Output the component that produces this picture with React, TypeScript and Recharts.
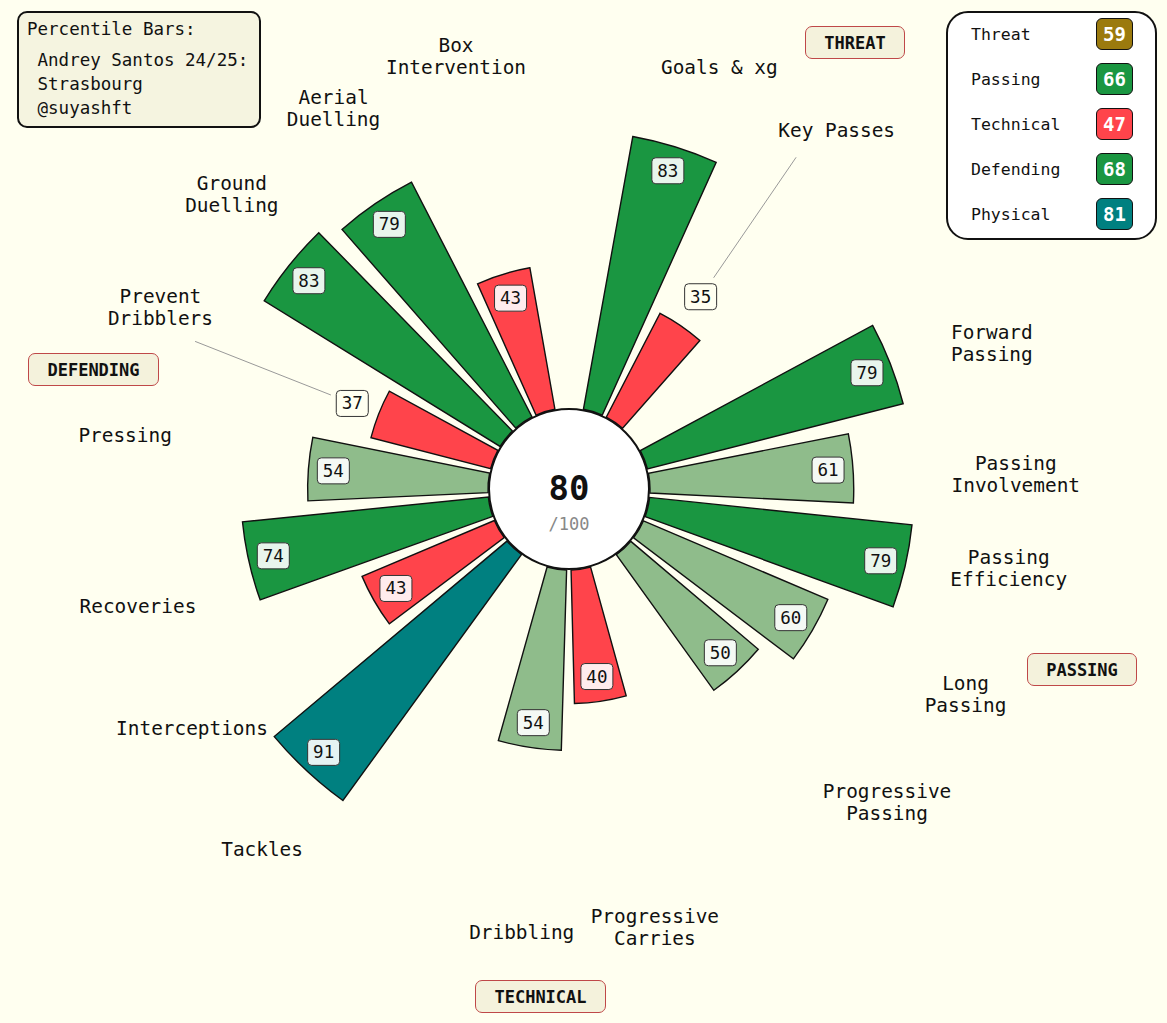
import { RadialBarChart, RadialBar, PolarAngleAxis, PolarRadiusAxis, Cell, LabelList } from 'recharts'

document.body.style.margin = '0'
document.body.style.background = '#fffff0'

// 21 slots round the circle, empty strings are the gaps between groups
const categories = [
  '', 'Goals & xg', 'Key Passes', '',
  'Forward\nPassing', 'Passing\nInvolvement', 'Passing\nEfficiency', 'Long\nPassing', 'Progressive\nPassing', '',
  'Progressive\nCarries', 'Dribbling', '',
  'Tackles', 'Interceptions', 'Recoveries', 'Pressing', 'Prevent\nDribblers', 'Ground\nDuelling', 'Aerial\nDuelling', 'Box\nIntervention',
]
const percentiles: (number | null)[] = [
  null, 83, 35, null,
  79, 61, 79, 60, 50, null,
  40, 54, null,
  91, 43, 74, 54, 37, 83, 79, 43,
]

const groupNames = ['Threat', 'Passing', 'Technical', 'Defending', 'Physical']
const groupScores = [59, 66, 47, 68, 81]
const overallScore = 80

const data = categories.map((c, i) => ({
  slot: c === '' ? `gap${i}` : c,
  value: percentiles[i],
}))

const W = 1167
const H = 1023
const CX = 569
const CY = 489
const R0 = 81
const R100 = 415
const LABEL_R = 447
const LABEL_CLEAR = 89     // min distance between a bar tip and its name
const LABEL_NUDGE = 2.5    // names lean a little towards the right side
const STEP = 360 / categories.length
const RAD = Math.PI / 180
const FONT = "'DejaVu Sans Mono', monospace"
const INK = '#111'

const barColor = (v: number) =>
  v >= 90 ? '#008080' : v >= 65 ? '#1a9641' : v >= 50 ? '#8fbc8b' : '#ff444b'
const scoreColor = (v: number) =>
  v >= 80 ? '#008080' : v >= 65 ? '#1a9641' : v >= 50 ? '#9b7a0e' : '#ff444b'

function CategoryTick(props: any) {
  const { payload } = props
  const name: string = payload?.value ?? ''
  if (!name || name.startsWith('gap')) return null
  // tick comes on the band edge, shift to the band centre
  const a = payload.coordinate + STEP / 2
  let cw = ((90 - a) % 360 + 360) % 360
  const upper = (cw + 360 - 274) % 360 < 180
  cw += upper ? LABEL_NUDGE : -LABEL_NUDGE
  const v = data.find(d => d.slot === name)?.value ?? 0
  const r = Math.max(LABEL_R, R0 + (v / 100) * (R100 - R0) + LABEL_CLEAR)
  const x = CX + r * Math.sin(cw * RAD)
  const y = CY - r * Math.cos(cw * RAD)
  const lines = name.split('\n')
  const lh = 22
  return (
    <text x={x} y={y} textAnchor="middle" fontFamily={FONT} fontSize={19.4} fill={INK}>
      {lines.map((l, i) => (
        <tspan key={i} x={x} dy={i === 0 ? -((lines.length - 1) * lh) / 2 + 6 : lh}>{l}</tspan>
      ))}
    </text>
  )
}

function ValueLabel(props: any) {
  const { viewBox, value } = props
  if (value == null || !viewBox) return null
  const { cx, cy, outerRadius, startAngle, endAngle } = viewBox
  const mid = (startAngle + endAngle) / 2
  const outside = value < 40
  const r = outside ? 233 : outerRadius - 25
  const ux = Math.cos(-mid * RAD)
  const uy = Math.sin(-mid * RAD)
  const x = cx + r * ux
  const y = cy + r * uy
  return (
    <g>
      {outside && (
        <line x1={cx + 256 * ux} y1={cy + 256 * uy} x2={cx + 402 * ux} y2={cy + 402 * uy}
          stroke="#999" strokeWidth={1} />
      )}
      <rect x={x - 16} y={y - 13} width={32} height={26} rx={4}
        fill={outside ? '#fffff0' : 'rgba(255,255,255,0.9)'} stroke="#333" strokeWidth={1} />
      <text x={x} y={y + 6} textAnchor="middle" fontFamily={FONT} fontSize={17.5} fill={INK}>{value}</text>
    </g>
  )
}

const tagStyle = {
  position: 'absolute' as const, height: 33, boxSizing: 'border-box' as const,
  border: '1.5px solid #bf4848', borderRadius: 7, background: '#f4f2dc',
  display: 'flex', alignItems: 'center', justifyContent: 'center',
  fontFamily: FONT, fontWeight: 700, fontSize: 17, color: INK,
}

// group tags sit round the outside of the ring
const tags = [
  { text: 'THREAT', left: 805, top: 26, width: 100 },
  { text: 'PASSING', left: 1027, top: 653, width: 110 },
  { text: 'TECHNICAL', left: 475, top: 980, width: 131 },
  { text: 'DEFENDING', left: 28, top: 353, width: 131 },
]

export default function App() {
  return (
    <div style={{ position: 'relative', width: W, height: H, background: '#fffff0', overflow: 'hidden' }}>
      <RadialBarChart
        width={W} height={H} data={data} layout="centric"
        cx={CX} cy={CY} innerRadius={R0} outerRadius={R100}
        startAngle={90 - STEP / 2} endAngle={90 - STEP / 2 - 360}
        barCategoryGap="8.5%" margin={{ top: 0, right: 0, bottom: 0, left: 0 }}
      >
        <PolarAngleAxis dataKey="slot" type="category" axisLine={false} tickLine={false} tick={<CategoryTick />} />
        <PolarRadiusAxis type="number" domain={[0, 100]} tick={false} axisLine={false} />
        <RadialBar dataKey="value" isAnimationActive={false} stroke={INK} strokeWidth={1.4}>
          {data.map((d, i) => (
            <Cell key={i} fill={d.value == null ? 'none' : barColor(d.value)} />
          ))}
          <LabelList dataKey="value" content={<ValueLabel />} />
        </RadialBar>
      </RadialBarChart>

      {/* centre disc */}
      <div style={{
        position: 'absolute', left: CX - R0, top: CY - R0, width: R0 * 2, height: R0 * 2,
        boxSizing: 'border-box', border: `2px solid ${INK}`, borderRadius: '50%', background: '#fff',
        fontFamily: FONT, textAlign: 'center',
      }}>
        <div style={{ fontSize: 34, fontWeight: 700, color: INK, marginTop: 58, lineHeight: '40px' }}>{overallScore}</div>
        <div style={{ fontSize: 17, color: '#888', lineHeight: '20px', marginTop: 6 }}>/100</div>
      </div>

      {/* title box */}
      <div style={{
        position: 'absolute', left: 17, top: 11, width: 244, height: 117, boxSizing: 'border-box',
        border: `2px solid ${INK}`, borderRadius: 10, background: '#f5f4e0',
        fontFamily: FONT, fontSize: 17.5, color: INK, whiteSpace: 'pre', padding: '4px 0 0 8px',
      }}>
        <div style={{ lineHeight: '24px', marginBottom: 7 }}>Percentile Bars:</div>
        <div style={{ lineHeight: '24px' }}> Andrey Santos 24/25:</div>
        <div style={{ lineHeight: '24px' }}> Strasbourg</div>
        <div style={{ lineHeight: '24px' }}> @suyashft</div>
      </div>

      {/* group score legend */}
      <div style={{
        position: 'absolute', left: 946, top: 11, width: 211, height: 229, boxSizing: 'border-box',
        border: `2px solid ${INK}`, borderRadius: 22, background: '#fff', fontFamily: FONT,
      }}>
        {groupNames.map((g, i) => (
          <div key={g} style={{ position: 'absolute', left: 23, top: 5 + i * 45, height: 32, width: 162, display: 'flex', alignItems: 'center' }}>
            <span style={{ fontSize: 16.5, color: INK, flex: 1 }}>{g}</span>
            <span style={{
              width: 37, height: 32, boxSizing: 'border-box', border: `1.5px solid ${INK}`, borderRadius: 6,
              background: scoreColor(groupScores[i]), color: '#fff', fontWeight: 700, fontSize: 19,
              display: 'flex', alignItems: 'center', justifyContent: 'center',
            }}>{groupScores[i]}</span>
          </div>
        ))}
      </div>

      {tags.map(t => (
        <div key={t.text} style={{ ...tagStyle, left: t.left, top: t.top, width: t.width }}>{t.text}</div>
      ))}
    </div>
  )
}
